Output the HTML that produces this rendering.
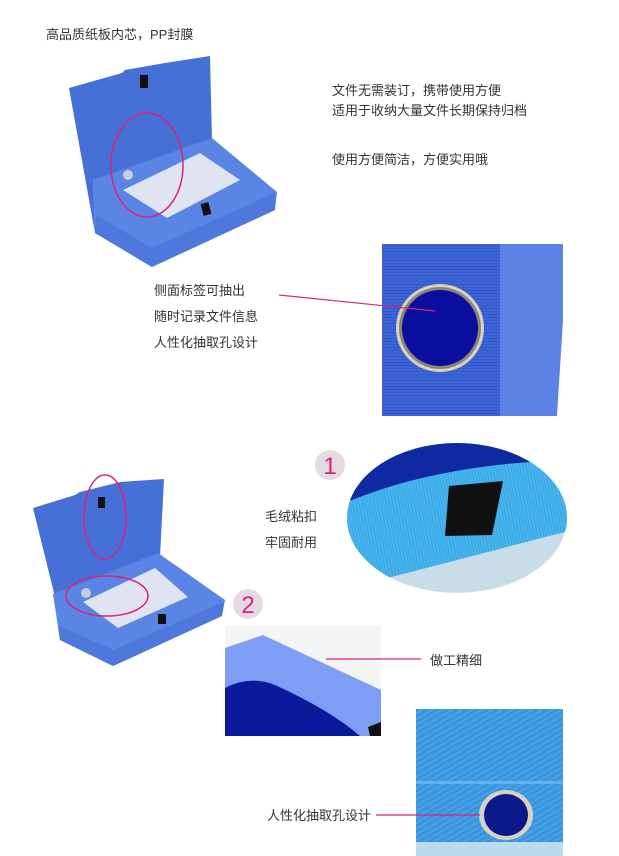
<!DOCTYPE html>
<html><head><meta charset="utf-8"><style>
html,body{margin:0;padding:0;background:#fff;}
svg{display:block}
text{font-family:"Liberation Sans","Noto Sans CJK SC",sans-serif;fill:#333;font-size:13px}
</style></head><body>
<svg width="619" height="856" viewBox="0 0 619 856" xmlns="http://www.w3.org/2000/svg">
<defs>
<pattern id="hl" width="4" height="3" patternUnits="userSpaceOnUse"><rect width="4" height="3" fill="#3c64d6"/><rect y="2" width="4" height="1" fill="#3358c8"/></pattern>
<pattern id="dg" width="5" height="5" patternUnits="userSpaceOnUse" patternTransform="rotate(-30)"><rect width="5" height="5" fill="#3a95dc"/><rect width="5" height="1.5" fill="#4aa6e8"/></pattern>
<pattern id="vl" width="3" height="4" patternUnits="userSpaceOnUse" patternTransform="rotate(-12)"><rect width="3" height="4" fill="#47b6f0"/><rect width="1" height="4" fill="#3aa4e0"/></pattern>
<clipPath id="c1"><ellipse cx="457" cy="518" rx="110" ry="75"/></clipPath>
</defs>
<rect width="619" height="856" fill="#fff"/>
<text x="46" y="39">高品质纸板内芯，PP封膜</text>
<!-- top box -->
<polygon points="69,88 122,73 125,70 165,63 210,56 212,140 93,180 95,233" fill="#4670d6"/>
<polygon points="93,180 212,138 277,192 275,210 152,267 95,233" fill="#5a85e4"/>
<polygon points="95,233 152,267 275,210 275,193 152,248 96,215" fill="#4f78dc"/>
<polygon points="123,190 200,153 240,180 167,218" fill="#e0e3f2"/>
<circle cx="128" cy="175" r="5" fill="#c8ccd6"/>
<rect x="140" y="75" width="8" height="13" fill="#111"/>
<rect x="202" y="203" width="8" height="12" fill="#111" transform="rotate(-15 206 209)"/>
<ellipse cx="147" cy="165" rx="36" ry="52" fill="none" stroke="#d8237e" stroke-width="1.5"/>
<text x="332" y="95">文件无需装订，携带使用方便</text>
<text x="332" y="115">适用于收纳大量文件长期保持归档</text>
<text x="332" y="164">使用方便简洁，方便实用哦</text>
<!-- spine image -->
<rect x="382" y="244" width="118" height="172" fill="url(#hl)"/>
<polygon points="500,244 563,244 563,320 557,416 500,416" fill="#5b82e4"/>
<circle cx="440" cy="328" r="44" fill="#d8d2c0"/>
<circle cx="440" cy="328" r="41" fill="#8a8574"/>
<circle cx="440" cy="328" r="38" fill="#0a0fa0"/>
<line x1="279" y1="295" x2="435" y2="311" stroke="#d8237e" stroke-width="1.2"/>
<text x="154" y="295">侧面标签可抽出</text>
<text x="154" y="321">随时记录文件信息</text>
<text x="154" y="347">人性化抽取孔设计</text>
<!-- bottom box -->
<polygon points="33,508 75,495 80,492 120,482 164,479 160,557 55,597" fill="#4670d6"/>
<polygon points="53,594 158,553 225,600 222,616 113,666 60,640" fill="#5a85e4"/>
<polygon points="60,640 113,666 222,616 224,602 113,650 58,625" fill="#4f78dc"/>
<polygon points="83,602 155,568 188,597 118,628" fill="#e0e3f2"/>
<circle cx="86" cy="593" r="5" fill="#c8ccd6"/>
<rect x="98" y="497" width="7" height="11" fill="#111"/>
<rect x="158" y="614" width="8" height="10" fill="#111"/>
<ellipse cx="105" cy="517" rx="21" ry="42" fill="none" stroke="#d8237e" stroke-width="1.5"/>
<ellipse cx="107" cy="596" rx="41" ry="20" fill="none" stroke="#d8237e" stroke-width="1.5"/>
<!-- circle image 1 -->
<circle cx="330" cy="465" r="15" fill="#e6dae2"/>
<text x="330" y="474" text-anchor="middle" style="font-size:24px;fill:#d8237e">1</text>
<g clip-path="url(#c1)">
<rect x="340" y="440" width="240" height="160" fill="#c9dde8"/>
<polygon points="340,440 580,440 580,528 380,580 340,580" fill="url(#vl)"/>
<path d="M340,505 Q420,470 530,462 L580,458 L580,440 L340,440 Z" fill="#0f2aa0"/>
<polygon points="449,486 503,481 492,535 445,536" fill="#111"/>
</g>
<text x="265" y="521">毛绒粘扣</text>
<text x="265" y="547">牢固耐用</text>
<!-- image 2 -->
<circle cx="248" cy="604" r="15" fill="#e6dae2"/>
<text x="248" y="613" text-anchor="middle" style="font-size:24px;fill:#d8237e">2</text>
<rect x="225" y="626" width="156" height="110" fill="#f3f5f5"/>
<polygon points="225,648 263,635 381,690 381,736 225,736" fill="#7e9df5"/>
<path d="M225,688 Q250,675 275,685 Q330,710 360,736 L225,736 Z" fill="#0b1a9a"/>
<polygon points="368,727 381,722 381,736 370,736" fill="#111"/>
<line x1="326" y1="659" x2="421" y2="659" stroke="#d8237e" stroke-width="1.2"/>
<text x="430" y="665">做工精细</text>
<!-- image 3 -->
<rect x="416" y="709" width="147" height="147" fill="url(#dg)"/>
<rect x="416" y="781" width="147" height="3" fill="#62b0ea"/>
<rect x="416" y="842" width="147" height="14" fill="#bcdcee"/>
<ellipse cx="506" cy="815" rx="27" ry="25" fill="#d8d2c0"/>
<ellipse cx="506" cy="815" rx="22" ry="21" fill="#0b1a8a"/>
<line x1="376" y1="815" x2="480" y2="815" stroke="#d8237e" stroke-width="1.2"/>
<text x="267" y="820">人性化抽取孔设计</text>
</svg>
</body></html>
